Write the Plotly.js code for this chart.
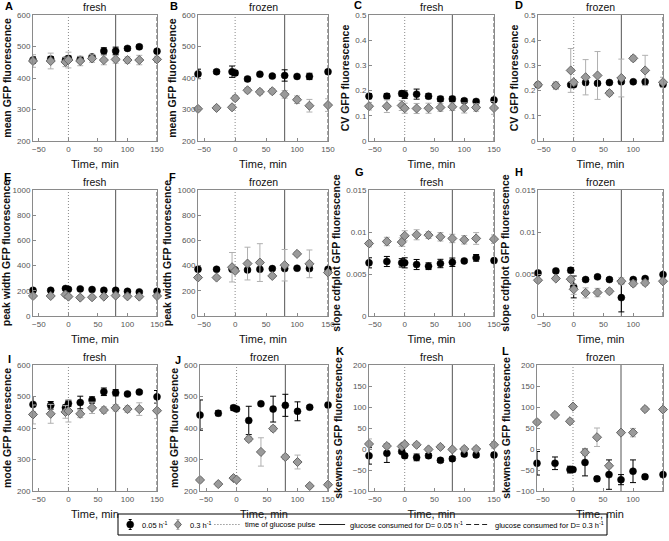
<!DOCTYPE html>
<html><head><meta charset="utf-8">
<script src="https://cdn.plot.ly/plotly-3.0.1.min.js"></script>
<style>body{margin:0;padding:0;background:#fff}#chart{width:669px;height:541px}</style>
</head><body><div id="chart"></div>
<script>
// Time points (min)
const time = [-60,-30,-5,0,20,40,60,80,100,120,150];
// Panel metadata
const panelLetters = ['A','B','C','D','E','F','G','H','I','J','K','L'];
const panelTitles = ['fresh','frozen','fresh','frozen','fresh','frozen','fresh','frozen','fresh','frozen','fresh','frozen'];
const yTitles = ['mean GFP fluorescence','mean GFP fluorescence','CV GFP fluorescence','CV GFP fluorescence',
  'peak width GFP fluorescence','peak width GFP fluorescence','slope cdfplot GFP fluorescence','slope cdfplot GFP fluorescence',
  'mode GFP fluorescence','mode GFP fluorescence','skewness GFP fluorescence','skewness GFP fluorescence'];
const legendNames = ['0.05 h<sup>-1</sup>','0.3 h<sup>-1</sup>','time of glucose pulse',
  'glucose consumed for D= 0.05 h<sup>-1</sup>','glucose consumed for D= 0.3 h<sup>-1</sup>'];
const pulseTime = 0, consumed005 = 80, consumed03 = 150;

// A: mean fresh
const meanFresh005 = [457,460,457,462,459,467,486,486,494,499,485];
const meanFresh005Err = [10,8,8,8,8,6,10,12,6,6,6];
const meanFresh03 = [454,454,451,457,454,462,457,459,457,457,459];
const meanFresh03Err = [20,25,15,25,15,12,15,12,10,15,10];
// B: mean frozen
const meanFrozen005 = [413,420,420,416,397,412,406,408,405,405,420];
const meanFrozen005Err = [15,6,18,8,6,5,5,18,5,10,6];
const meanFrozen03 = [302,305,307,336,361,356,358,348,331,312,314];
const meanFrozen03Err = [6,6,6,8,8,8,8,12,12,20,20];
// C: CV fresh
const cvFresh005 = [0.178,0.178,0.188,0.184,0.186,0.178,0.167,0.167,0.160,0.157,0.163];
const cvFresh005Err = [0.01,0.01,0.01,0.015,0.02,0.01,0.01,0.01,0.008,0.008,0.008];
const cvFresh03 = [0.138,0.138,0.141,0.130,0.129,0.130,0.133,0.136,0.131,0.133,0.131];
const cvFresh03Err = [0.015,0.025,0.02,0.02,0.02,0.02,0.015,0.015,0.02,0.015,0.025];
// D: CV frozen
const cvFrozen005 = [0.223,0.22,0.223,0.223,0.232,0.229,0.232,0.235,0.235,0.235,0.224];
const cvFrozen005Err = [0.005,0.005,0.005,0.005,0.005,0.005,0.005,0.005,0.005,0.005,0.005];
const cvFrozen03 = [0.223,0.22,0.28,0.233,0.253,0.26,0.19,0.25,0.328,0.28,0.233];
const cvFrozen03Err = [0.01,0.015,0.087,0.01,0.07,0.095,0.01,0.075,0.01,0.06,0.02];
// E: peak width fresh
const pwFresh005 = [204,204,218,212,215,210,204,204,196,191,196];
const pwFresh005Err = [10,10,10,10,10,10,10,10,10,10,10];
const pwFresh03 = [159,159,170,154,146,149,154,162,156,154,159];
const pwFresh03Err = [15,15,15,15,15,15,15,15,15,15,15];
// F: peak width frozen
const pwFrozen005 = [371,371,371,366,366,371,376,376,379,376,371];
const pwFrozen005Err = [10,10,10,10,10,10,10,10,10,10,10];
const pwFrozen03 = [305,305,387,358,416,424,318,403,493,414,345];
const pwFrozen03Err = [15,15,117,10,130,150,15,125,15,110,15];
// G: slope cdfplot fresh
const slopeFresh005 = [0.00633,0.00649,0.00633,0.00633,0.00613,0.00593,0.00625,0.0064,0.00656,0.00692,0.0066];
const slopeFresh005Err = [0.0006,0.0006,0.0005,0.0006,0.0006,0.0004,0.0005,0.0005,0.0002,0.0004,0.0002];
const slopeFresh03 = [0.00863,0.00887,0.0088,0.00955,0.00967,0.00963,0.00943,0.00923,0.00907,0.00923,0.00915];
const slopeFresh03Err = [0.0004,0.0005,0.0005,0.0006,0.0006,0.0004,0.0005,0.0005,0.0005,0.0007,0.0005];
// H: slope cdfplot frozen
const slopeFrozen005 = [0.00513,0.00537,0.00545,0.00346,0.00434,0.00466,0.00434,0.00219,0.00434,0.00446,0.00493];
const slopeFrozen005Err = [0.0002,0.0002,0.0003,0.0013,0.0002,0.0002,0.0002,0.0017,0.0002,0.0002,0.0002];
const slopeFrozen03 = [0.00426,0.00446,0.00438,0.00318,0.00275,0.00279,0.00294,0.00414,0.00386,0.00394,0.00414];
const slopeFrozen03Err = [0.0002,0.0002,0.0003,0.0006,0.0006,0.0005,0.0003,0.0004,0.0003,0.0003,0.0003];
// I: mode fresh
const modeFresh005 = [475,472,465,478,481,489,515,512,508,514,499];
const modeFresh005Err = [25,12,8,10,20,10,12,10,5,5,20];
const modeFresh03 = [443,445,451,454,445,464,457,464,460,460,455];
const modeFresh03Err = [30,30,20,35,12,18,10,10,10,20,25];
// J: mode frozen
const modeFrozen005 = [441,447,464,460,424,477,460,472,453,466,473];
const modeFrozen005Err = [48,8,8,6,45,5,41,35,30,5,6];
const modeFrozen03 = [235,222,241,236,365,324,398,308,292,216,220];
const modeFrozen03Err = [6,6,6,6,8,45,8,8,22,5,5];
// K: skewness fresh
const skewFresh005 = [-16,-10,-6,-16,-20,-16,-27,-23,-12,-14,-14];
const skewFresh005Err = [20,22,5,5,8,5,5,5,5,5,5];
const skewFresh03 = [12,7,6,11,10,-1,5,-1,0,0,10];
const skewFresh03Err = [12,5,5,5,5,5,5,5,5,5,8];
// L: skewness frozen
const skewFrozen005 = [-34,-34,-49,-49,-32,-71,-61,-73,-53,-66,-61];
const skewFrozen005Err = [28,15,8,5,32,5,35,12,27,5,5];
const skewFrozen03 = [64,81,66,101,-8,28,-40,39,39,95,94];
const skewFrozen03Err = [5,5,5,5,8,22,5,5,10,5,5];

// Axis ranges and tick steps
const yRanges = [[200,600],[200,600],[0,0.5],[0,0.5],[0,1000],[0,1000],[0,0.015],[0,0.015],[200,600],[200,600],[-100,200],[-100,200]];
const yDtick = [100,100,0.1,0.1,200,200,0.005,0.005,100,100,50,50];
const xRange = [-60,150];
const xTicks = [-50,0,50,100,150];

const series005 = [meanFresh005,meanFrozen005,cvFresh005,cvFrozen005,pwFresh005,pwFrozen005,slopeFresh005,slopeFrozen005,modeFresh005,modeFrozen005,skewFresh005,skewFrozen005];
const series005Err = [meanFresh005Err,meanFrozen005Err,cvFresh005Err,cvFrozen005Err,pwFresh005Err,pwFrozen005Err,slopeFresh005Err,slopeFrozen005Err,modeFresh005Err,modeFrozen005Err,skewFresh005Err,skewFrozen005Err];
const series03 = [meanFresh03,meanFrozen03,cvFresh03,cvFrozen03,pwFresh03,pwFrozen03,slopeFresh03,slopeFrozen03,modeFresh03,modeFrozen03,skewFresh03,skewFrozen03];
const series03Err = [meanFresh03Err,meanFrozen03Err,cvFresh03Err,cvFrozen03Err,pwFresh03Err,pwFrozen03Err,slopeFresh03Err,slopeFrozen03Err,modeFresh03Err,modeFrozen03Err,skewFresh03Err,skewFrozen03Err];

// Layout geometry (pixels)
const W = 669, H = 541;
const colX = [[[33,157],[198,328],[369,494],[538,663]],
              [[33,157],[198,328],[369,494],[538,663]],
              [[33,157],[200,328],[369,494],[537,663]]];
const rowY = [[15,141],[190,316],[365,491]];
const letterPos = [[3,6],[168,6],[352,5],[513,5],[2,177],[167,177],[353,172],[513,172],[6,359],[173,360],[334,351],[500,351]];

const FONT = 'Liberation Sans, Arial, sans-serif';
const px = x => x/W, py = y => 1 - y/H;
const traces = [];
const layout = {
  width: W, height: H, margin:{l:0,r:0,t:0,b:0},
  paper_bgcolor:'#fff', plot_bgcolor:'#fff',
  font:{family:FONT, size:9, color:'#000'},
  showlegend:false,
  annotations:[], shapes:[]
};

for (let i=0;i<12;i++){
  const r = Math.floor(i/4), c = i%4;
  const xs = i===0?'':String(i+1);
  const [x0,x1] = colX[r][c], [y0,y1] = rowY[r];
  layout['xaxis'+xs] = {domain:[px(x0),px(x1)], anchor:'y'+xs, range:xRange, tickvals:xTicks,
    showline:true, mirror:true, linecolor:'#8a8a8a', linewidth:1, ticks:'inside', ticklen:3, tickcolor:'#8a8a8a',
    showgrid:false, zeroline:false, tickfont:{size:8, color:'#555'},
    title:{text:'Time, min', font:{size:11, color:'#111'}, standoff:7}};
  layout['yaxis'+xs] = {domain:[py(y1),py(y0)], anchor:'x'+xs, range:yRanges[i], dtick:yDtick[i],
    tick0:yRanges[i][0],
    showline:true, mirror:true, linecolor:'#8a8a8a', linewidth:1, ticks:'inside', ticklen:3, tickcolor:'#8a8a8a',
    showgrid:false, zeroline:false, tickfont:{size:8, color:'#555'},
    title:{text:'<b>'+yTitles[i]+'</b>', font:{size:10.5, color:'#111'}, standoff:3}};
  // vertical reference lines
  layout.shapes.push({type:'line', layer:'below', xref:'x'+xs, yref:'y'+xs+' domain', x0:pulseTime, x1:pulseTime, y0:0, y1:1,
    line:{color:'#8a8a8a', width:1, dash:'1px,2px'}});
  layout.shapes.push({type:'line', layer:'below', xref:'x'+xs, yref:'y'+xs+' domain', x0:consumed005, x1:consumed005, y0:0, y1:1,
    line:{color:'#555', width:1}});
  layout.shapes.push({type:'line', layer:'below', xref:'x'+xs, yref:'y'+xs+' domain', x0:consumed03, x1:consumed03, y0:0, y1:1,
    line:{color:'#888', width:1.5, dash:'4px,2px'}});
  // titles
  layout.annotations.push({text:panelTitles[i], xref:'paper', yref:'paper', x:px((x0+x1)/2), y:py(y0-8),
    xanchor:'center', yanchor:'middle', showarrow:false, font:{size:10.5, color:'#111'}});
  layout.annotations.push({text:'<b>'+panelLetters[i]+'</b>', xref:'paper', yref:'paper', x:px(letterPos[i][0]), y:py(letterPos[i][1]),
    xanchor:'left', yanchor:'middle', showarrow:false, font:{size:11, color:'#000'}});

  traces.push({type:'scatter', mode:'markers', x:time, y:series005[i], xaxis:'x'+xs, yaxis:'y'+xs,
    name:legendNames[0], cliponaxis:false,
    marker:{symbol:'circle', size:7, color:'#000', line:{color:'#000', width:0.5}},
    error_y:{type:'data', array:series005Err[i], visible:true, color:'#000', thickness:1, width:3}});
  traces.push({type:'scatter', mode:'markers', x:time, y:series03[i], xaxis:'x'+xs, yaxis:'y'+xs,
    name:legendNames[1], cliponaxis:false,
    marker:{symbol:'diamond', size:7, color:'#9a9a9a', line:{color:'#666', width:1}},
    error_y:{type:'data', array:series03Err[i], visible:true, color:'#b0b0b0', thickness:1, width:3}});
}

// ---- Manual legend box (bottom) ----
const LF = 7.5;
const ctx = document.createElement('canvas').getContext('2d');
function tw(html){
  const m = html.match(/^(.*?)<sup>(.*?)<\/sup>$/);
  ctx.font = LF+'px "Liberation Sans"';
  if(!m) return ctx.measureText(html).width;
  const a = ctx.measureText(m[1]).width;
  ctx.font = (LF*0.7)+'px "Liberation Sans"';
  return a + ctx.measureText(m[2]).width;
}
const boxL = 118, boxR = 607, boxT = 514, boxB = 535, cy = 524.5;
const symW = [14,14,26,26,24];
const textW = legendNames.map(tw);
const gapSymText = 3;
const innerUsed = symW.reduce((a,b)=>a+b,0) + textW.reduce((a,b)=>a+b,0) + 5*gapSymText;
const pad = (boxR-boxL - innerUsed)/6;
layout.shapes.push({type:'rect', xref:'paper', yref:'paper', x0:px(boxL), x1:px(boxR), y0:py(boxB), y1:py(boxT),
  line:{color:'#000', width:1}, fillcolor:'#fff'});
let cx = boxL + pad;
for(let k=0;k<5;k++){
  const s0 = cx, s1 = cx + symW[k], mid = (s0+s1)/2;
  if(k<2){
    const ec = k===0 ? '#000' : '#b0b0b0';
    layout.shapes.push({type:'line', xref:'paper', yref:'paper', x0:px(mid), x1:px(mid), y0:py(cy+5), y1:py(cy-5), line:{color:ec, width:1}});
    layout.shapes.push({type:'line', xref:'paper', yref:'paper', x0:px(mid-1.5), x1:px(mid+1.5), y0:py(cy+5), y1:py(cy+5), line:{color:ec, width:1}});
    layout.shapes.push({type:'line', xref:'paper', yref:'paper', x0:px(mid-1.5), x1:px(mid+1.5), y0:py(cy-5), y1:py(cy-5), line:{color:ec, width:1}});
    if(k===0){
      layout.shapes.push({type:'circle', xref:'paper', yref:'paper', x0:px(mid-3.5), x1:px(mid+3.5), y0:py(cy+3.5), y1:py(cy-3.5), fillcolor:'#000', line:{color:'#000', width:0.5}});
    } else {
      const p = `M${px(mid)},${py(cy-4)} L${px(mid+3.5)},${py(cy)} L${px(mid)},${py(cy+4)} L${px(mid-3.5)},${py(cy)} Z`;
      layout.shapes.push({type:'path', xref:'paper', yref:'paper', path:p, fillcolor:'#9a9a9a', line:{color:'#666', width:1}});
    }
  } else {
    const dash = k===2 ? '1px,2px' : (k===3 ? 'solid' : '5px,3px');
    const col = k===2 ? '#666' : '#222';
    layout.shapes.push({type:'line', xref:'paper', yref:'paper', x0:px(s0), x1:px(s1), y0:py(cy), y1:py(cy), line:{color:col, width:1, dash:dash}});
  }
  layout.annotations.push({text:legendNames[k], xref:'paper', yref:'paper', x:px(s1+gapSymText), y:py(cy),
    xanchor:'left', yanchor:'middle', showarrow:false, font:{size:LF, color:'#000'}});
  cx = s1 + gapSymText + textW[k] + pad;
}

Plotly.newPlot('chart', traces, layout, {displayModeBar:false, staticPlot:true});
</script></body></html>
